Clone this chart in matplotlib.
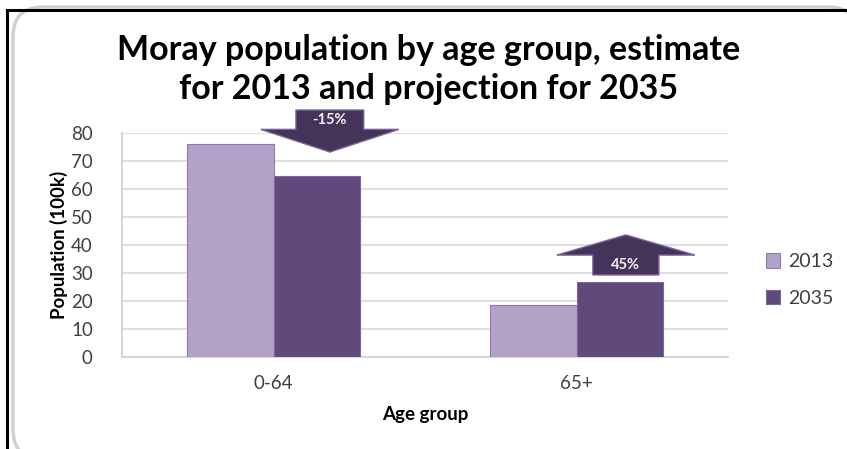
import matplotlib.pyplot as plt
from matplotlib.patches import Polygon, FancyBboxPatch
from matplotlib.lines import Line2D
import numpy as np

# data
age_groups = ["0-64", "65+"]
years = ["2013", "2035"]
pop_2013 = [76.0, 18.5]
pop_2035 = [64.5, 26.8]
changes = ["-15%", "45%"]

c2013 = "#B3A2C7"
c2035 = "#604A7B"
arrow_face = "#45345A"
arrow_edge = "#7A6596"

plt.rcParams["font.family"] = ["Lato", "DejaVu Sans"]

fig = plt.figure(figsize=(8.47, 4.49), dpi=100)
fig.patch.set_facecolor("white")

# outer frame: black lines left/top and a rounded grey box
fig.add_artist(Line2D([7 / 847, 7 / 847], [0, 1 - 10 / 449], color="black", lw=2.2,
                      transform=fig.transFigure))
fig.add_artist(Line2D([7 / 847, 1], [1 - 10 / 449, 1 - 10 / 449], color="black", lw=2.2,
                      transform=fig.transFigure))
box = FancyBboxPatch((13 / 847, -10 / 449), 845 / 847, 452 / 449,
                     boxstyle="round,pad=0,rounding_size=0.035",
                     transform=fig.transFigure, fc="white", ec="#D0D0D0", lw=2.5,
                     mutation_aspect=847 / 449)
fig.add_artist(box)

ax = fig.add_axes([122 / 847, 1 - 357 / 449, (728 - 122) / 847, (357 - 133) / 449])
ax.set_zorder(2)

x = np.arange(len(age_groups))
w = 0.285
ax.bar(x - w / 2, pop_2013, w, color=c2013, edgecolor="#8E7AAE", lw=0.8, label=years[0], zorder=3)
ax.bar(x + w / 2, pop_2035, w, color=c2035, edgecolor="#7B66A0", lw=0.8, label=years[1], zorder=3)

ax.set_xlim(-0.5, 1.5)
ax.set_ylim(0, 80)
ax.set_yticks(range(0, 81, 10))
ax.set_xticks(x)
ax.set_xticklabels(age_groups)
ax.yaxis.grid(True, color="#D9D9D9", lw=1.2)
ax.set_axisbelow(True)
for s in ["top", "right"]:
    ax.spines[s].set_visible(False)
for s in ["left", "bottom"]:
    ax.spines[s].set_color("#D0D0D0")
    ax.spines[s].set_linewidth(1.2)
ax.tick_params(length=0, labelsize=13.5, colors="#404040")
ax.tick_params(axis="y", pad=21)
ax.tick_params(axis="x", pad=13)

ax.set_ylabel("Population (100k)", fontsize=13.5, fontweight="bold", labelpad=2)
ax.set_xlabel("Age group", fontsize=13.5, fontweight="bold", labelpad=10)


def block_arrow(ax, xc, y_start, y_shoulder, y_tip, body_hw, head_hw, label):
    pts = [(xc - body_hw, y_start), (xc + body_hw, y_start), (xc + body_hw, y_shoulder),
           (xc + head_hw, y_shoulder), (xc, y_tip), (xc - head_hw, y_shoulder),
           (xc - body_hw, y_shoulder)]
    ax.add_patch(Polygon(pts, closed=True, fc=arrow_face, ec=arrow_edge, lw=1,
                         zorder=5, clip_on=False))
    ax.text(xc, (y_start + y_shoulder) / 2, label, color="#F2F2F2", fontsize=10.5,
            fontweight="bold", ha="center", va="center", zorder=6, clip_on=False)


# arrows showing change between 2013 and 2035
block_arrow(ax, x[0] + 0.186, 88.2, 81.3, 73.2, 0.112, 0.228, changes[0])
block_arrow(ax, x[1] + 0.163, 29.3, 36.4, 43.6, 0.109, 0.228, changes[1])

fig.text(429 / 847, 1 - 50 / 449, "Moray population by age group, estimate",
         ha="center", va="center", fontsize=24.5, fontweight="bold")
fig.text(429 / 847, 1 - 89 / 449, "for 2013 and projection for 2035",
         ha="center", va="center", fontsize=24.5, fontweight="bold")

fig.legend(loc="center left", bbox_to_anchor=(748 / 847, 1 - 280 / 449), frameon=False,
           fontsize=14, handlelength=0.75, handleheight=0.75, handletextpad=0.4,
           labelspacing=1.0, labelcolor="#404040")

fig.savefig("out.png", dpi=100)
